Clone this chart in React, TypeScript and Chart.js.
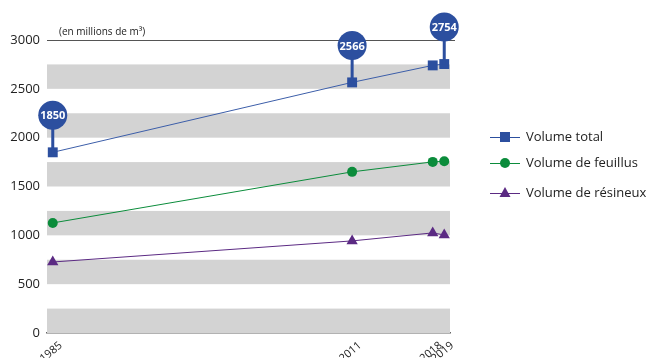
import React, { useEffect, useRef } from "react";
import { Chart, registerables } from "chart.js";

Chart.register(...registerables);

const years = [1985, 2011, 2018, 2019];
const volumeTotal = [1850, 2566, 2740, 2754];
const volumeFeuillus = [1127, 1650, 1752, 1758];
const volumeResineux = [727, 943, 1025, 1004];
const yTicks = [0, 500, 1000, 1500, 2000, 2500, 3000];
const xTickLabels = ["1985", "2011", "2018", "2019"];
const bubbleLabels = ["1850", "2566", "", "2754"];
const legendLabels = ["Volume total", "Volume de feuillus", "Volume de résineux"];
const unitLabel = "(en millions de m³)";

const BLUE = "#2c4f9f";
const GREEN = "#0b8c3b";
const PURPLE = "#5b2a83";
const FONT = "'Open Sans', 'Noto Sans', sans-serif";

const bandsPlugin = {
  id: "bands",
  beforeDatasetsDraw(chart: any) {
    const { ctx, chartArea, scales } = chart;
    const y = scales.y;
    ctx.save();
    ctx.fillStyle = "#d3d3d3";
    for (let v = 0; v < 3000; v += 500) {
      const top = y.getPixelForValue(v + 250);
      const bot = y.getPixelForValue(v);
      ctx.fillRect(chartArea.left, top, chartArea.right - chartArea.left, bot - top);
    }
    ctx.strokeStyle = "#555";
    ctx.lineWidth = 1;
    const yt = Math.round(y.getPixelForValue(3000)) + 0.5;
    ctx.beginPath();
    ctx.moveTo(chartArea.left, yt);
    ctx.lineTo(chartArea.right + 5, yt);
    ctx.stroke();
    ctx.fillStyle = "#222";
    ctx.font = `10px ${FONT}`;
    ctx.textBaseline = "bottom";
    ctx.textAlign = "left";
    ctx.fillText(unitLabel, chartArea.left + 12, yt - 3);
    ctx.restore();
  },
  afterDatasetsDraw(chart: any) {
    const { ctx, scales, chartArea } = chart;
    ctx.save();
    // x tick labels
    ctx.fillStyle = "#222";
    ctx.font = `11px ${FONT}`;
    ctx.textAlign = "right";
    ctx.textBaseline = "middle";
    years.forEach((yr, i) => {
      const px = scales.x.getPixelForValue(yr);
      ctx.save();
      ctx.translate(px + 8, chartArea.bottom + 11);
      ctx.rotate((-40 * Math.PI) / 180);
      ctx.fillText(xTickLabels[i], 0, 0);
      ctx.restore();
    });
    // bubbles
    volumeTotal.forEach((v, i) => {
      const lab = bubbleLabels[i];
      if (!lab) return;
      const px = scales.x.getPixelForValue(years[i]);
      const py = scales.y.getPixelForValue(v);
      const cy = py - 37;
      ctx.fillStyle = BLUE;
      ctx.fillRect(px - 1.5, cy, 3, py - cy);
      ctx.beginPath();
      ctx.arc(px, cy, 14.5, 0, Math.PI * 2);
      ctx.fill();
      ctx.fillStyle = "#fff";
      ctx.font = `bold 11px ${FONT}`;
      ctx.textAlign = "center";
      ctx.textBaseline = "middle";
      ctx.fillText(lab, px, cy + 1);
    });
    // legend
    const colors = [BLUE, GREEN, PURPLE];
    const styles = ["rect", "circle", "triangle"];
    const rows = [137, 163, 193];
    legendLabels.forEach((t, i) => {
      const yy = rows[i];
      ctx.strokeStyle = colors[i];
      ctx.lineWidth = 1;
      ctx.beginPath();
      ctx.moveTo(490, yy + 0.5);
      ctx.lineTo(520, yy + 0.5);
      ctx.stroke();
      ctx.fillStyle = colors[i];
      ctx.beginPath();
      if (styles[i] === "rect") {
        ctx.fillRect(505 - 5, yy - 5, 10, 10);
      } else if (styles[i] === "circle") {
        ctx.arc(505, yy, 5, 0, Math.PI * 2);
        ctx.fill();
      } else {
        ctx.moveTo(505, yy - 6);
        ctx.lineTo(510.5, yy + 4);
        ctx.lineTo(499.5, yy + 4);
        ctx.closePath();
        ctx.fill();
      }
      ctx.fillStyle = "#222";
      ctx.font = `13px ${FONT}`;
      ctx.textAlign = "left";
      ctx.textBaseline = "middle";
      ctx.fillText(t, 526, yy);
    });
    ctx.restore();
  },
};

export default function App() {
  const ref = useRef<HTMLCanvasElement | null>(null);
  useEffect(() => {
    document.body.style.margin = "0";
    if (!ref.current) return;
    const mk = (arr: number[]) => years.map((yr, i) => ({ x: yr, y: arr[i] }));
    const chart = new Chart(ref.current, {
      type: "line",
      data: {
        datasets: [
          {
            label: legendLabels[0],
            data: mk(volumeTotal),
            borderColor: "#3c5ea9",
            backgroundColor: BLUE,
            borderWidth: 1,
            pointStyle: "rect",
            pointRadius: 7,
            pointBorderWidth: 0,
          },
          {
            label: legendLabels[1],
            data: mk(volumeFeuillus),
            borderColor: GREEN,
            backgroundColor: GREEN,
            borderWidth: 1,
            pointStyle: "circle",
            pointRadius: 5,
            pointBorderWidth: 0,
          },
          {
            label: legendLabels[2],
            data: mk(volumeResineux),
            borderColor: PURPLE,
            backgroundColor: PURPLE,
            borderWidth: 1,
            pointStyle: "triangle",
            pointRadius: 6.5,
            pointBorderWidth: 0,
          },
        ],
      },
      options: {
        animation: false,
        responsive: false,
        maintainAspectRatio: false,
        layout: { padding: { top: 40, right: 201, left: 0, bottom: 0 } },
        plugins: { legend: { display: false }, tooltip: { enabled: false } },
        scales: {
          x: {
            type: "linear",
            min: 1984.5,
            max: 2019.5,
            afterBuildTicks: (s: any) => {
              s.ticks = years.map((v) => ({ value: v }));
            },
            afterFit: (s: any) => {
              s.height = 25;
            },
            grid: { display: false, drawTicks: false },
            border: { display: true, color: "#666", width: 1.5 },
            ticks: { display: false },
          },
          y: {
            min: 0,
            max: 3000,
            afterBuildTicks: (s: any) => {
              s.ticks = yTicks.map((v) => ({ value: v }));
            },
            afterFit: (s: any) => {
              s.width = 47;
            },
            grid: { display: false, drawTicks: false },
            border: { display: false },
            ticks: {
              padding: 7,
              color: "#222",
              font: { family: FONT, size: 13 },
              callback: (v: any) => String(v),
            },
          },
        },
      },
      plugins: [bandsPlugin],
    } as any);
    return () => chart.destroy();
  }, []);
  return (
    <div style={{ width: 651, height: 358 }}>
      <canvas ref={ref} width={651} height={358} style={{ display: "block" }} />
    </div>
  );
}
